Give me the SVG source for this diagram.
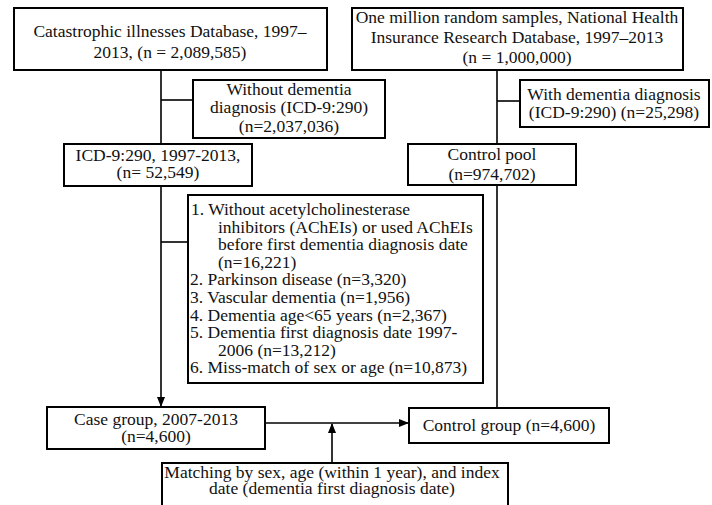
<svg xmlns="http://www.w3.org/2000/svg" width="712" height="505" viewBox="0 0 712 505" font-family="'Liberation Serif', 'DejaVu Serif', serif" font-size="17.5">
<style>
.box{fill:#fff;stroke:#000;stroke-width:2}
text{font-family:'Liberation Serif','DejaVu Serif',serif;font-size:17.5px;fill:#111}
.c{text-anchor:middle}
.ln{stroke:#000;stroke-width:1.6;fill:none}
</style>
<defs>
<marker id="ah" markerWidth="10" markerHeight="10" refX="9" refY="5" orient="auto" markerUnits="userSpaceOnUse">
<path d="M0,1 L10,5 L0,9 Z" fill="#000"/>
</marker>
</defs>
<rect width="712" height="505" fill="#fff"/>
<g id="connectors">
<line class="ln" x1="161" y1="70" x2="161" y2="144"/>
<line class="ln" x1="161" y1="100" x2="193" y2="100"/>
<line class="ln" x1="161" y1="186" x2="161" y2="406" marker-end="url(#ah)"/>
<line class="ln" x1="161" y1="242" x2="188" y2="242"/>
<line class="ln" x1="497" y1="70" x2="497" y2="144"/>
<line class="ln" x1="497" y1="101" x2="520" y2="101"/>
<line class="ln" x1="497" y1="185" x2="497" y2="408"/>
<line class="ln" x1="265" y1="423" x2="408" y2="423" marker-end="url(#ah)"/>
<line class="ln" x1="332" y1="463" x2="332" y2="424" marker-end="url(#ah)"/>
</g>
<g id="catastrophic">
<rect class="box" x="14" y="8" width="313" height="62"/>
<text class="c" x="170" y="37">Catastrophic illnesses Database, 1997–</text>
<text class="c" x="170" y="58">2013, (n = 2,089,585)</text>
</g>
<g id="million">
<rect class="box" x="352" y="8" width="331" height="62"/>
<text class="c" x="517" y="23">One million random samples, National Health</text>
<text class="c" x="517" y="43">Insurance Research Database, 1997–2013</text>
<text class="c" x="517" y="63">(n = 1,000,000)</text>
</g>
<g id="without">
<rect class="box" x="193" y="80" width="192" height="58"/>
<text class="c" x="289" y="95">Without dementia</text>
<text class="c" x="289" y="113">diagnosis (ICD-9:290)</text>
<text class="c" x="289" y="132">(n=2,037,036)</text>
</g>
<g id="with">
<rect class="box" x="520" y="80" width="189" height="47"/>
<text class="c" x="614" y="100">With dementia diagnosis</text>
<text class="c" x="614" y="118">(ICD-9:290) (n=25,298)</text>
</g>
<g id="icd">
<rect class="box" x="64" y="144" width="188" height="42"/>
<text class="c" x="158" y="161">ICD-9:290, 1997-2013,</text>
<text class="c" x="158" y="178">(n= 52,549)</text>
</g>
<g id="pool">
<rect class="box" x="408" y="144" width="168" height="41"/>
<text class="c" x="492" y="160">Control pool</text>
<text class="c" x="492" y="180">(n=974,702)</text>
</g>
<g id="exclusion">
<rect class="box" x="188" y="195" width="295" height="188"/>
<text x="191" y="215">1. Without acetylcholinesterase</text>
<text x="218" y="232.6">inhibitors (AChEIs) or used AChEIs</text>
<text x="218" y="250.2">before first dementia diagnosis date</text>
<text x="218" y="267.8">(n=16,221)</text>
<text x="190" y="285.4">2. Parkinson disease (n=3,320)</text>
<text x="190" y="303">3. Vascular dementia (n=1,956)</text>
<text x="190" y="320.6">4. Dementia age&lt;65 years (n=2,367)</text>
<text x="190" y="338.2">5. Dementia first diagnosis date 1997-</text>
<text x="218" y="355.8">2006 (n=13,212)</text>
<text x="190" y="373.4">6. Miss-match of sex or age (n=10,873)</text>
</g>
<g id="case">
<rect class="box" x="47" y="407" width="218" height="42"/>
<text class="c" x="156" y="425">Case group, 2007-2013</text>
<text class="c" x="156" y="442">(n=4,600)</text>
</g>
<g id="control">
<rect class="box" x="409" y="408" width="200" height="35"/>
<text class="c" x="509" y="431">Control group (n=4,600)</text>
</g>
<g id="matching">
<rect class="box" x="162" y="463" width="346" height="50"/>
<text class="c" x="332" y="478">Matching by sex, age (within 1 year), and index</text>
<text class="c" x="332" y="494">date (dementia first diagnosis date)</text>
</g>
</svg>
